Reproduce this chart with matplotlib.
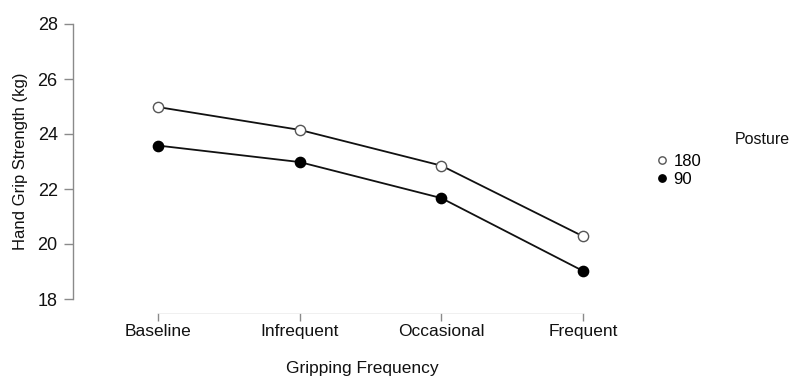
import matplotlib
matplotlib.use("Agg")
import matplotlib.pyplot as plt
from matplotlib.lines import Line2D

categories = ["Baseline", "Infrequent", "Occasional", "Frequent"]
posture_180 = [24.98, 24.15, 22.85, 20.28]
posture_90 = [23.58, 22.98, 21.67, 19.02]
yticks = [18, 20, 22, 24, 26, 28]

plt.rcParams['font.family'] = ['Liberation Sans', 'DejaVu Sans']

W, H = 792, 378
fig = plt.figure(figsize=(W / 100, H / 100), dpi=100)
left, right, top, bottom = 73, 640, 24, 299
ax = fig.add_axes([left / W, 1 - bottom / H, (right - left) / W, (bottom - top) / H])

x = list(range(len(categories)))
ax.plot(x, posture_180, color='#111111', lw=1.3, marker='o', ms=7.4,
        mfc='white', mec='#555555', mew=1.0, zorder=3)
ax.plot(x, posture_90, color='#111111', lw=1.3, marker='o', ms=7.4,
        mfc='black', mec='black', mew=1.0, zorder=3)

px_per_unit = (583 - 158) / 3
ax.set_xlim((left - 158) / px_per_unit, (right - 158) / px_per_unit)
ax.set_ylim(18, 28)
ax.set_yticks(yticks)
ax.set_xticks(x)
ax.set_xticklabels(categories)

for s in ['top', 'right']:
    ax.spines[s].set_visible(False)
ax.spines['left'].set_bounds(18, 28)
ax.spines['left'].set_color('#8a8a8a')
ax.spines['left'].set_linewidth(1.0)
ax.spines['bottom'].set_bounds(0, 3)
ax.spines['bottom'].set_position(('outward', 10))
ax.spines['bottom'].set_color('#eeeeee')
ax.spines['bottom'].set_linewidth(0.6)
ax.spines['bottom'].set_linestyle((0, (1, 1)))

ax.tick_params(axis='y', length=6.5, width=1.0, color='#8a8a8a', labelsize=13, pad=4.5, labelcolor='#111111')
ax.tick_params(axis='x', length=5.5, width=1.0, color='#8a8a8a', labelsize=12.5, pad=2.5, labelcolor='#111111')

ax.set_ylabel("Hand Grip Strength (kg)", fontsize=12, color='#111111')
ax.yaxis.set_label_coords((28 - left) / (right - left), 0.5)
ax.set_xlabel("Gripping Frequency", fontsize=12.5, color='#111111', va='center')
ax.xaxis.set_label_coords((362 - left) / (right - left), -(368 - bottom) / (bottom - top))

# legend
fig.text(790 / W, 1 - 140 / H, "Posture", fontsize=11.5, ha='right', va='center', color='#111111')
handles = [
    Line2D([], [], ls='none', marker='o', ms=5.3, mfc='white', mec='#555555', mew=1.0),
    Line2D([], [], ls='none', marker='o', ms=5.3, mfc='black', mec='black', mew=1.0),
]
leg = fig.legend(handles, ["180", "90"], loc='upper left',
                 bbox_to_anchor=(656 / W, 1 - 154 / H), frameon=False,
                 fontsize=12, handlelength=0.7, handletextpad=0.35,
                 labelspacing=0.15, borderaxespad=0, borderpad=0)

fig.savefig("out.png", dpi=100)
